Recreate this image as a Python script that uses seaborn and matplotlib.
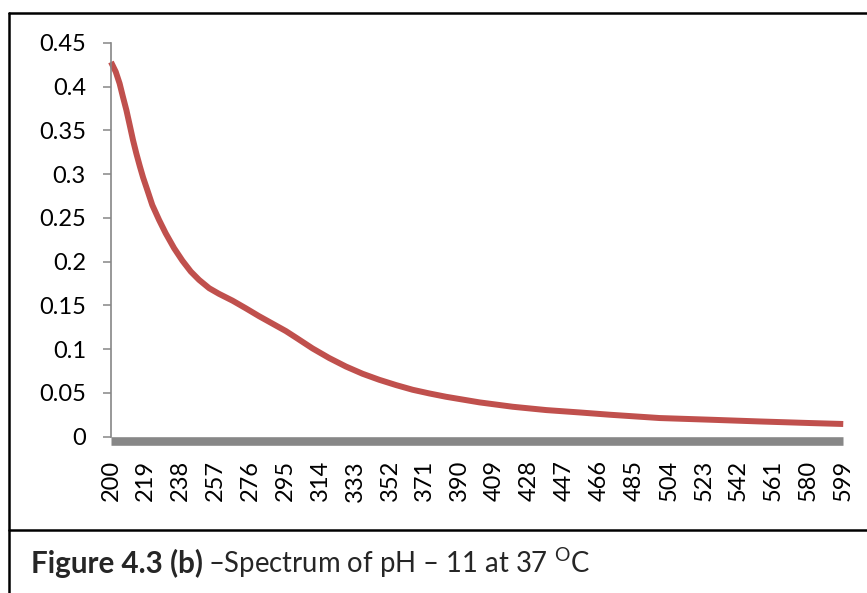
import matplotlib
matplotlib.use("Agg")
import matplotlib.pyplot as plt
import matplotlib.transforms as mtransforms
from matplotlib.lines import Line2D
import seaborn as sns
import pandas as pd

# ---- data ----
wavelengths = [200, 202.6, 204.7, 206.5, 208.4, 210.2, 212, 213.8, 215.7, 217.5,
               219.8, 222.5, 226.2, 229.8, 234.4, 238.9, 243.5, 248, 253.5, 258.9,
               266.2, 273.5, 280.7, 288, 295.3, 301, 309.8, 318.9, 328, 337.1,
               346.2, 355.3, 364.4, 373.5, 382.6, 400.8, 418.9, 437.2, 455.3,
               471.7, 499, 526.3, 553.5, 580.8, 599]
absorbance = [0.428, 0.4168, 0.4035, 0.3883, 0.373, 0.356, 0.3388, 0.3236, 0.309,
              0.296, 0.2817, 0.2646, 0.2475, 0.2323, 0.2152, 0.201, 0.1885, 0.179,
              0.1695, 0.163, 0.1553, 0.1465, 0.1375, 0.129, 0.1205, 0.1128, 0.1007,
              0.0897, 0.080, 0.0717, 0.0648, 0.0588, 0.0534, 0.0492, 0.0454, 0.039,
              0.034, 0.0302, 0.0275, 0.0249, 0.0211, 0.0192, 0.0172, 0.0154, 0.0143]
baseline_wavelengths = [200, 599]
baseline_values = [0.0, 0.0]
x_tick_labels = [200, 219, 238, 257, 276, 295, 314, 333, 352, 371, 390, 409, 428,
                 447, 466, 485, 504, 523, 542, 561, 580, 599]
y_ticks = [0, 0.05, 0.1, 0.15, 0.2, 0.25, 0.3, 0.35, 0.4, 0.45]
y_tick_labels = ["0", "0.05", "0.1", "0.15", "0.2", "0.25", "0.3", "0.35", "0.4", "0.45"]
caption_bold = "Figure 4.3 (b)"
caption_rest = "\u2013Spectrum of pH \u2013 11 at 37 $^{\\mathrm{O}}$C"

sns.set_style("white")
plt.rcParams["font.family"] = ["Lato", "DejaVu Sans"]
plt.rcParams["mathtext.fontset"] = "custom"
plt.rcParams["mathtext.rm"] = "Lato"

fig = plt.figure(figsize=(8.67, 5.93), dpi=100)
ax = fig.add_axes([0.128, 0.2639, 0.8446, 0.664])

df = pd.DataFrame({"wavelength": wavelengths, "absorbance": absorbance})
dfb = pd.DataFrame({"wavelength": baseline_wavelengths, "value": baseline_values})

# gray baseline series (sits just under zero line)
off = mtransforms.offset_copy(ax.transData, fig=fig, x=0, y=-4, units="dots")
sns.lineplot(data=dfb, x="wavelength", y="value", ax=ax, color="#878787",
             linewidth=6.2, clip_on=False, transform=off, solid_capstyle="butt")
sns.lineplot(data=df, x="wavelength", y="absorbance", ax=ax, color="#C0504D",
             linewidth=4.3, clip_on=False, solid_capstyle="butt",
             solid_joinstyle="round")

ax.set_xlim(200, 599)
ax.set_ylim(0, 0.45)
ax.set_xlabel("")
ax.set_ylabel("")

ax.set_yticks(y_ticks)
ax.set_yticklabels(y_tick_labels, fontsize=17, color="black")
ax.set_xticks(x_tick_labels)
ax.set_xticklabels([str(v) for v in x_tick_labels], rotation=90, fontsize=17,
                   color="black", va="top")

for s in ["top", "right", "bottom"]:
    ax.spines[s].set_visible(False)
ax.spines["left"].set_color("#868686")
ax.spines["left"].set_linewidth(1.2)
ax.tick_params(axis="y", direction="out", length=6, width=1.1, color="#868686",
               pad=12, left=True)
ax.tick_params(axis="x", length=0, pad=17, bottom=False)

# frame lines around the chart and caption area
for (x0, y0, x1, y1) in [(0.0105, 0.978, 1.0, 0.978),
                         (0.0105, 0.978, 0.0105, 0.0),
                         (0.0105, 0.1057, 1.0, 0.1057)]:
    fig.add_artist(Line2D([x0, x1], [y0, y1], transform=fig.transFigure,
                          color="black", linewidth=1.8))

# caption
t1 = fig.text(30.5 / 867, 0.0335, caption_bold, fontsize=21.3, fontweight="bold",
              ha="left", va="baseline")
fig.canvas.draw()
bb = t1.get_window_extent(renderer=fig.canvas.get_renderer())
fig.text((bb.x1 + 6) / 867, 0.0335, caption_rest, fontsize=19.8,
         ha="left", va="baseline")

fig.savefig("out.png", dpi=100)
